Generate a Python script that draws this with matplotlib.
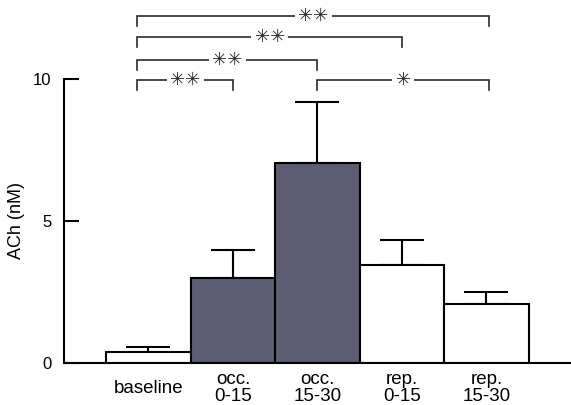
import numpy as np
import matplotlib.pyplot as plt

plt.rcParams['font.family'] = ['Liberation Sans', 'DejaVu Sans']

groups = ['baseline', 'occ.\n0-15', 'occ.\n15-30', 'rep.\n0-15', 'rep.\n15-30']
ach_mean = [0.39, 3.0, 7.03, 3.45, 2.08]
ach_sem = [0.17, 0.98, 2.17, 0.88, 0.42]
bar_colors = ['white', '#5d5c72', '#5d5c72', 'white', 'white']

# significance brackets: (from group, to group, stars)
sig_pairs = [(0, 1, '**'), (2, 4, '*'), (0, 2, '**'), (0, 3, '**'), (0, 4, '**')]
sig_levels = [9.95, 9.95, 10.67, 11.46, 12.22]

fig = plt.figure(figsize=(5.71, 4.05), dpi=100)
ax = fig.add_axes([0.112, 0.1037, 0.888, 0.8963])

x = np.arange(len(groups))
ax.bar(x, ach_mean, width=1.0, color=bar_colors, edgecolor='black', linewidth=1.5, zorder=2)
ax.errorbar(x, ach_mean, yerr=[np.zeros(len(x)), ach_sem], fmt='none', ecolor='black',
            elinewidth=1.5, capsize=15.5, capthick=1.5, zorder=1)

drop = 0.35
for (a, b, stars), lev in zip(sig_pairs, sig_levels):
    xa = a - 0.13 if a == 0 else a
    xb = b + 0.03 if b == 4 else b
    ax.plot([xa, xa, xb, xb], [lev - drop, lev, lev, lev - drop], color='#2a2a2a', lw=1.2,
            solid_joinstyle='miter', clip_on=False)
    ax.text((xa + xb) / 2, lev, stars.replace('*', '\u2733'), ha='center', va='center',
            fontsize=13, color='#2a2a2a', family=['DejaVu Sans'],
            bbox=dict(facecolor='white', edgecolor='none', pad=2.5))

ax.set_xlim(-1.0, 5.0)
ax.set_ylim(0, 12.78)
ax.set_yticks([0, 5, 10])
ax.set_yticklabels(['0', '5', '10'])
ax.set_xticks(x)
ax.set_xticklabels(groups)
for lbl in ax.get_xticklabels():
    lbl.set_va('center')
    lbl.set_linespacing(0.95)
ax.tick_params(axis='x', length=0, pad=18, labelsize=13.5)
ax.tick_params(axis='y', direction='in', length=11, width=1.5, pad=9, labelsize=12)

ax.spines['top'].set_visible(False)
ax.spines['right'].set_visible(False)
ax.spines['left'].set_bounds(0, 10)
ax.spines['left'].set_linewidth(1.5)
ax.spines['bottom'].set_linewidth(1.5)

ax.set_ylabel('ACh (nM)', fontsize=13)
ax.yaxis.set_label_coords(-0.077, 5 / 12.78)

plt.savefig('out.png', dpi=100)
